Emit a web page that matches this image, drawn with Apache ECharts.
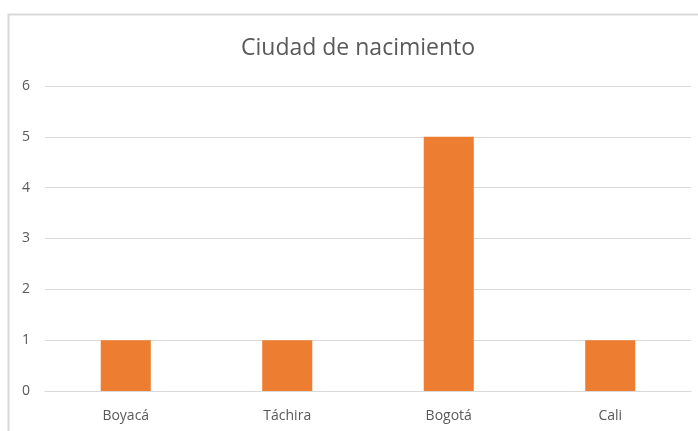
<!DOCTYPE html>
<html>
<head>
<meta charset="utf-8">
<script src="https://cdn.jsdelivr.net/npm/echarts@6/dist/echarts.min.js"></script>
<style>html,body{margin:0;padding:0;background:#fff}#c{width:698px;height:431px}</style>
</head>
<body>
<div id="c"></div>
<script>
const categories = ["Boyacá", "Táchira", "Bogotá", "Cali"];
const values = [1, 1, 5, 1];
const yTicks = [0, 1, 2, 3, 4, 5, 6];

const chart = echarts.init(document.getElementById('c'), null, {renderer: 'canvas'});
chart.setOption({
  animation: false,
  title: {
    text: "Ciudad de nacimiento",
    left: 236,
    top: 32,
    textStyle: {fontFamily: 'Open Sans', fontSize: 23, fontWeight: 'normal', color: '#595959'}
  },
  graphic: [{
    type: 'rect',
    shape: {x: 8.5, y: 14.5, width: 800, height: 600},
    style: {fill: 'none', stroke: '#D9D9D9', lineWidth: 2},
    silent: true
  }],
  grid: {left: 45, right: 7, top: 86, bottom: 40, containLabel: false},
  xAxis: {
    type: 'category',
    data: categories,
    axisLine: {lineStyle: {color: '#D9D9D9'}},
    axisTick: {show: false},
    axisLabel: {color: '#595959', fontFamily: 'Open Sans', fontSize: 14, margin: 18}
  },
  yAxis: {
    type: 'value',
    min: yTicks[0],
    max: yTicks[yTicks.length - 1],
    interval: 1,
    axisLine: {show: false},
    axisTick: {show: false},
    splitLine: {lineStyle: {color: '#D9D9D9'}},
    axisLabel: {color: '#595959', fontFamily: 'Open Sans', fontSize: 14, margin: 15}
  },
  series: [{
    type: 'bar',
    data: values,
    barWidth: '31%',
    itemStyle: {color: '#ED7D31'}
  }]
});
</script>
</body>
</html>
